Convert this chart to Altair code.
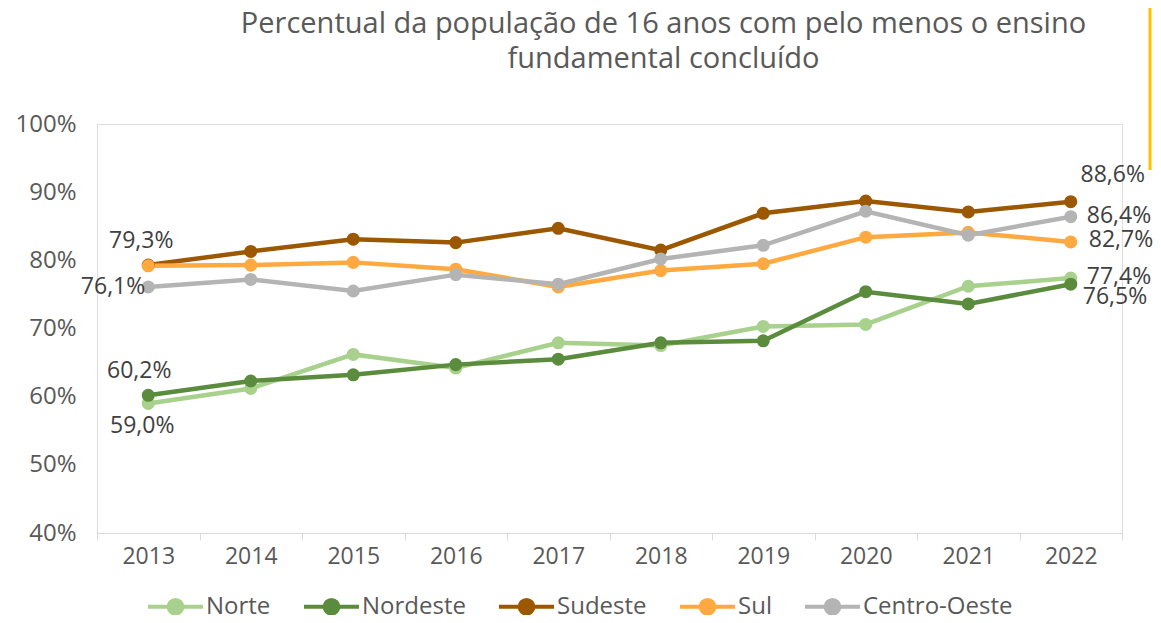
import altair as alt
import pandas as pd

years = ["2013", "2014", "2015", "2016", "2017", "2018", "2019", "2020", "2021", "2022"]
series_names = ["Norte", "Nordeste", "Sudeste", "Sul", "Centro-Oeste"]
colors = ["#A9D18E", "#5B8C3E", "#9C5800", "#FFA940", "#B4B4B4"]

norte = [59.0, 61.2, 66.2, 64.2, 67.9, 67.5, 70.3, 70.6, 76.2, 77.4]
nordeste = [60.2, 62.3, 63.2, 64.7, 65.5, 67.9, 68.2, 75.4, 73.6, 76.5]
sudeste = [79.3, 81.3, 83.1, 82.6, 84.7, 81.5, 86.9, 88.7, 87.1, 88.6]
sul = [79.2, 79.3, 79.7, 78.7, 76.1, 78.5, 79.5, 83.4, 84.1, 82.7]
centro_oeste = [76.1, 77.2, 75.5, 77.9, 76.5, 80.2, 82.2, 87.2, 83.7, 86.4]

y_ticks = [40, 50, 60, 70, 80, 90, 100]
title_lines = ["Percentual da população de 16 anos com pelo menos o ensino", "fundamental concluído"]

values = [norte, nordeste, sudeste, sul, centro_oeste]
rows = []
for s_i, (name, vals) in enumerate(zip(series_names, values)):
    for y_i, (yr, v) in enumerate(zip(years, vals)):
        rows.append({"serie": name, "ano": yr, "valor": v, "ordem": s_i,
                     "rotulo": f"{v:.1f}%".replace(".", ",")})
df = pd.DataFrame(rows)

FONT = "Open Sans"
GRAY = "#595959"

x_enc = alt.X("ano:O", bandPosition=0.5,
              scale=alt.Scale(type="band", paddingInner=0, paddingOuter=0),
              axis=alt.Axis(title=None, tickBand="extent", labelAngle=0, labelFontSize=23,
                            labelColor=GRAY, labelFont=FONT, domainColor="#D9D9D9",
                            tickColor="#D9D9D9", tickSize=7, labelPadding=5, grid=False))
y_enc = alt.Y("valor:Q", scale=alt.Scale(domain=[40, 100], nice=False, zero=False),
              axis=alt.Axis(title=None, values=y_ticks, labelExpr="datum.value + '%'",
                            labelFontSize=24, labelColor=GRAY, labelFont=FONT,
                            domain=False, ticks=False, grid=False, labelPadding=21))
color_scale = alt.Scale(domain=series_names, range=colors)

symbol_path = "M-1,0L1,0M0.25,0A0.25,0.25,0,1,1,-0.25,0A0.25,0.25,0,1,1,0.25,0Z"
legend = alt.Legend(title=None, orient="none", direction="horizontal", legendX=49, legendY=453,
                    symbolType=symbol_path, symbolSize=3025, symbolStrokeWidth=4,
                    labelFontSize=24, labelColor=GRAY, labelFont=FONT, labelOffset=1,
                    columnPadding=25)

base = alt.Chart(df)
lines = base.mark_line(strokeWidth=4.5).encode(
    x=x_enc, y=y_enc,
    color=alt.Color("serie:N", scale=color_scale, sort=series_names, legend=legend),
    order=alt.Order("ano:O"),
)
points = base.mark_point(filled=True, size=170, opacity=1).encode(
    x=x_enc, y=y_enc,
    color=alt.Color("serie:N", scale=color_scale, sort=series_names, legend=legend),
    order=alt.Order("ordem:Q"),
)

label_specs = [
    ("Sudeste", "2013", "center", -7, -24),
    ("Centro-Oeste", "2013", "right", -3, 0),
    ("Nordeste", "2013", "center", -9, -24),
    ("Norte", "2013", "center", -6, 23),
    ("Sudeste", "2022", "center", 42, -27),
    ("Centro-Oeste", "2022", "left", 16, -1),
    ("Sul", "2022", "left", 18, -2),
    ("Norte", "2022", "left", 16, -1),
    ("Nordeste", "2022", "left", 12, 13),
]
label_layers = []
for serie, ano, align, dx, dy in label_specs:
    label_layers.append(
        base.transform_filter(
            (alt.datum.serie == serie) & (alt.datum.ano == ano)
        ).mark_text(align=align, baseline="middle", dx=dx, dy=dy, fontSize=23,
                    font=FONT, color="#404040").encode(x=x_enc, y=y_enc, text="rotulo:N")
    )

accent = base.mark_rule(color="#FFC000", strokeWidth=3).encode(
    x=alt.value(1053), y=alt.value(-116), y2=alt.value(46)
).transform_filter(alt.datum.ano == "2013").transform_filter(alt.datum.serie == "Norte")

chart = alt.layer(lines, points, *label_layers, accent).properties(
    width=1025, height=409,
    title=alt.TitleParams(text=title_lines, anchor="middle", dx=54, offset=-67,
                          fontSize=29, font=FONT, fontWeight="normal", color=GRAY,
                          lineHeight=35),
    autosize=alt.AutoSizeParams(type="none"),
    padding={"left": 89, "top": 116, "right": 31, "bottom": 82},
).configure_view(strokeWidth=0).configure(background="white")

chart.save("out.html", embed_options={"renderer": "svg", "actions": False})
